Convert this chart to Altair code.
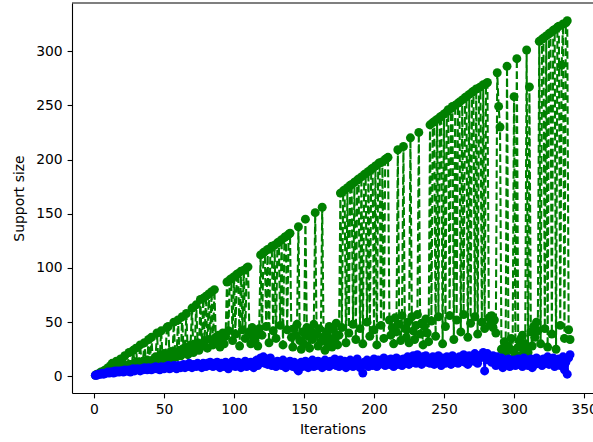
import altair as alt
import pandas as pd

# Green series (dashed line with markers): support size per iteration
green_vals = [
    1, 2, 2, 3, 4, 3, 5, 6, 4, 8,
    5, 10, 12, 6, 7, 14, 8, 7, 16, 9,
    8, 19, 10, 9, 22, 11, 10, 24, 12, 26,
    11, 13, 29, 12, 14, 31, 13, 15, 34, 14,
    36, 15, 12, 18, 40, 14, 19, 42, 16, 21,
    15, 45, 46, 19, 23, 16, 50, 21, 18, 52,
    24, 19, 55, 22, 27, 58, 20, 25, 29, 63,
    22, 27, 66, 31, 24, 71, 28, 72, 33, 74,
    26, 76, 34, 78, 29, 80, 36, 31, 38, 27,
    34, 40, 30, 37, 87, 42, 89, 90, 33, 92,
    39, 94, 95, 28, 97, 43, 98, 35, 100, 101,
    41, 30, 45, 36, 33, 40, 28, 44, 112, 38,
    114, 115, 46, 117, 31, 118, 120, 42, 121, 35,
    123, 124, 47, 126, 29, 128, 129, 43, 131, 132,
    36, 27, 44, 38, 48, 138, 33, 25, 41, 30,
    145, 45, 37, 26, 42, 34, 48, 151, 39, 28,
    44, 32, 156, 36, 24, 41, 30, 46, 35, 27,
    43, 33, 49, 29, 38, 169, 45, 171, 172, 31,
    174, 40, 176, 177, 48, 179, 34, 181, 182, 44,
    184, 30, 186, 187, 50, 189, 37, 191, 192, 43,
    194, 29, 196, 197, 47, 198, 35, 200, 201, 202,
    52, 38, 45, 30, 54, 41, 209, 48, 33, 56,
    212, 44, 36, 50, 31, 220, 55, 42, 34, 47,
    57, 225, 39, 49, 29, 46, 53, 40, 32, 232,
    51, 234, 235, 37, 237, 55, 239, 240, 30, 242,
    46, 244, 246, 56, 247, 249, 34, 250, 52, 252,
    253, 41, 255, 57, 257, 258, 36, 260, 49, 262,
    263, 55, 265, 39, 266, 267, 50, 269, 44, 270,
    271, 54, 48, 56, 45, 52, 40, 280, 249, 230,
    25, 18, 32, 22, 286, 28, 16, 35, 24, 258,
    20, 293, 27, 33, 19, 38, 24, 30, 301, 22,
    267, 41, 28, 46, 36, 50, 42, 309, 30, 311,
    312, 44, 314, 27, 316, 317, 39, 319, 320, 25,
    322, 323, 47, 287, 325, 35, 326, 328, 43, 34,
]

# Blue series (solid line with markers)
blue_vals = [
    1, 1, 2, 2, 2, 3, 2, 3, 3, 4, 3, 4, 4, 3, 5, 4, 5, 4, 5, 5,
    4, 6, 5, 5, 6, 4, 6, 7, 5, 6, 7, 6, 5, 7, 6, 8, 7, 6, 8, 7,
    6, 8, 7, 9, 7, 8, 6, 9, 8, 7, 9, 8, 10, 7, 9, 8, 10, 9, 7, 10,
    9, 8, 10, 11, 8, 10, 9, 12, 10, 8, 11, 10, 9, 12, 11, 10, 8, 12, 11, 9,
    12, 10, 13, 11, 9, 12, 10, 13, 11, 8, 12, 10, 9, 13, 11, 7, 12, 10, 14, 11,
    9, 12, 13, 10, 8, 12, 11, 14, 9, 12, 10, 13, 11, 8, 12, 15, 10, 13, 17, 14,
    18, 12, 16, 11, 14, 17, 10, 13, 12, 9, 14, 11, 13, 10, 15, 12, 8, 13, 11, 14,
    12, 9, 13, 10, 7, 5, 11, 13, 9, 12, 14, 10, 8, 13, 11, 15, 9, 12, 10, 14,
    11, 13, 8, 12, 15, 10, 13, 9, 14, 11, 12, 16, 10, 13, 9, 15, 12, 11, 14, 8,
    13, 10, 15, 12, 9, 14, 11, 16, 12, 8, 10, 3, 13, 11, 15, 9, 14, 12, 10, 16,
    13, 9, 15, 11, 14, 12, 17, 10, 13, 15, 11, 16, 12, 9, 14, 17, 11, 13, 15, 10,
    16, 12, 14, 18, 11, 15, 13, 19, 16, 12, 20, 14, 17, 11, 18, 15, 19, 13, 16, 12,
    15, 18, 11, 16, 13, 19, 14, 10, 17, 15, 12, 18, 14, 16, 11, 19, 13, 17, 15, 12,
    18, 14, 16, 20, 13, 17, 11, 19, 15, 18, 14, 21, 16, 12, 19, 17, 20, 22, 5, 18,
    21, 15, 17, 13, 19, 16, 10, 18, 14, 12, 17, 8, 15, 13, 11, 16, 9, 14, 12, 15,
    10, 13, 16, 11, 14, 9, 17, 12, 15, 10, 13, 16, 8, 14, 11, 17, 12, 15, 13, 10,
    16, 12, 14, 18, 11, 15, 13, 17, 9, 14, 12, 16, 10, 15, 18, 6, 13, 2, 17, 20,
]

x_ticks = [0, 50, 100, 150, 200, 250, 300, 350]
y_ticks = [0, 50, 100, 150, 200, 250, 300]

green_df = pd.DataFrame({"it": list(range(1, len(green_vals) + 1)), "v": green_vals})
blue_df = pd.DataFrame({"it": list(range(1, len(blue_vals) + 1)), "v": blue_vals})

FONT = "DejaVu Sans"
FS = 13.9
W, H = 521, 390

xs = alt.Scale(domain=[-15.7, 356.4], nice=False, zero=False)
ys = alt.Scale(domain=[-15.35, 344.35], nice=False, zero=False)

common_axis = dict(
    grid=False, tickSize=4.9, tickWidth=1.1, tickColor="black",
    domainColor="black", domainWidth=1.1,
    labelFont=FONT, labelFontSize=FS, labelColor="black", labelPadding=4.9,
    labelFlush=False, labelOverlap=False,
    titleFont=FONT, titleFontSize=FS, titleFontWeight="normal", titleColor="black",
)

x_enc = alt.X("it:Q", scale=xs,
              axis=alt.Axis(values=x_ticks, title="Iterations", titlePadding=6, **common_axis))
y_enc = alt.Y("v:Q", scale=ys,
              axis=alt.Axis(values=y_ticks, title="Support size", titlePadding=9, **common_axis))

green = alt.Chart(green_df).mark_line(
    color="#008000", strokeWidth=2.08, strokeDash=[7.7, 3.3],
    point=alt.OverlayMarkDef(color="#008000", filled=True, size=80, opacity=1, strokeWidth=0),
).encode(x=x_enc, y=y_enc)

blue = alt.Chart(blue_df).mark_line(
    color="#0000ff", strokeWidth=2.08,
    point=alt.OverlayMarkDef(color="#0000ff", filled=True, size=80, opacity=1, strokeWidth=0),
).encode(x=x_enc, y=y_enc)

top_spine = alt.Chart(pd.DataFrame({"a": [0]})).mark_rule(
    color="black", strokeWidth=1.1
).encode(x=alt.value(0), x2=alt.value(W), y=alt.value(0))

chart = alt.layer(green, blue, top_spine).properties(
    width=W, height=H,
    padding={"left": 72, "top": 3, "right": 0, "bottom": 49},
    autosize=alt.AutoSizeParams(type="none"),
).configure_view(stroke=None)

chart.save("out.html", embed_options={"renderer": "svg", "actions": False})
